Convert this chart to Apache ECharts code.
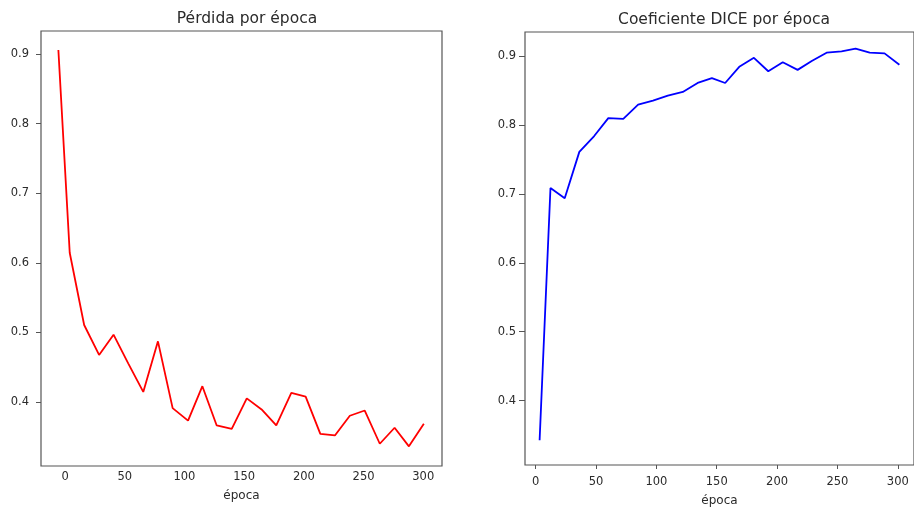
<!DOCTYPE html>
<html>
<head>
<meta charset="utf-8">
<script src="https://cdn.jsdelivr.net/npm/echarts@6/dist/echarts.min.js"></script>
<style>
html,body{margin:0;padding:0;background:#fff;}
#chart{width:914px;height:512px;}
</style>
</head>
<body>
<div id="chart"></div>
<script>
// ---- data ----
const lossEpochs = [-5.6, 3.9, 16, 28.5, 40.6, 53, 65.5, 77.8, 90.1, 103, 115, 127, 139.6, 152.2, 164.6, 176.9, 189.5, 201.5, 213.8, 226, 238.5, 251, 263.6, 276, 288, 300.5];
const lossValues = [0.906, 0.6145, 0.5105, 0.4674, 0.4966, 0.455, 0.4143, 0.487, 0.391, 0.373, 0.4225, 0.366, 0.361, 0.405, 0.389, 0.366, 0.413, 0.4076, 0.354, 0.3516, 0.38, 0.3875, 0.3397, 0.3627, 0.336, 0.3685];

const diceEpochs = [3.3, 12.3, 24.1, 36.2, 48.5, 60.2, 72.6, 84.9, 97.2, 109.5, 121.9, 134.2, 146, 157, 169, 180.8, 192.7, 204.7, 217, 228.7, 241, 253.4, 265, 276.7, 289, 301.3];
const diceValues = [0.3424, 0.7086, 0.6938, 0.761, 0.784, 0.810, 0.809, 0.8295, 0.8355, 0.8427, 0.848, 0.861, 0.868, 0.861, 0.885, 0.8975, 0.878, 0.891, 0.880, 0.8928, 0.905, 0.907, 0.911, 0.905, 0.904, 0.8875];

const xTicks = [0, 50, 100, 150, 200, 250, 300];
const yTicks = [0.4, 0.5, 0.6, 0.7, 0.8, 0.9];

const titles = ['Pérdida por época', 'Coeficiente DICE por época'];
const xName = 'época';

// ---- chart ----
const font = 'DejaVu Sans';
const txt = '#2b2b2b';
const axisCol = '#555';

function xAxisCfg(idx, min, max, tickLen, labelMargin, nameGap) {
  return {
    type: 'value', gridIndex: idx, min: min, max: max,
    name: xName, nameLocation: 'middle', nameGap: nameGap,
    nameTextStyle: {color: txt, fontFamily: font, fontSize: 12},
    axisLine: {show: false, onZero: false},
    axisTick: {show: tickLen > 0, length: tickLen, customValues: xTicks, lineStyle: {color: axisCol}},
    axisLabel: {customValues: xTicks, color: txt, fontFamily: font, fontSize: 11.5, margin: labelMargin},
    splitLine: {show: false}
  };
}
function yAxisCfg(idx, min, max, tickLen, labelMargin) {
  return {
    type: 'value', gridIndex: idx, min: min, max: max,
    axisLine: {show: false, onZero: false},
    axisTick: {show: true, length: tickLen, customValues: yTicks, lineStyle: {color: axisCol}},
    axisLabel: {customValues: yTicks, color: txt, fontFamily: font, fontSize: 11.5, margin: labelMargin,
      formatter: v => v.toFixed(1)},
    splitLine: {show: false}
  };
}

const chart = echarts.init(document.getElementById('chart'), null, {renderer: 'canvas'});
chart.setOption({
  backgroundColor: '#ffffff',
  animation: false,
  title: [
    {text: titles[0], left: 242, top: 6, textAlign: 'center',
     textStyle: {color: txt, fontFamily: font, fontSize: 15.5, fontWeight: 'normal'}},
    {text: titles[1], left: 719, top: 7, textAlign: 'center',
     textStyle: {color: txt, fontFamily: font, fontSize: 15.5, fontWeight: 'normal'}}
  ],
  grid: [
    {left: 41, top: 31, width: 401, height: 435, show: true, borderColor: axisCol, borderWidth: 1.2, backgroundColor: 'transparent'},
    {left: 525, top: 32, width: 393, height: 436, show: true, borderColor: axisCol, borderWidth: 1.2, backgroundColor: 'transparent'}
  ],
  xAxis: [
    xAxisCfg(0, -20.15, 315.7, 0, 5, 24),
    xAxisCfg(1, -8.8, 313.4, 4, 11, 30)
  ],
  yAxis: [
    yAxisCfg(0, 0.3077, 0.9334, 5, 12),
    yAxisCfg(1, 0.3064, 0.935, 6, 9)
  ],
  series: [
    {type: 'line', xAxisIndex: 0, yAxisIndex: 0, showSymbol: false,
     data: lossEpochs.map((e, i) => [e, lossValues[i]]),
     lineStyle: {color: '#ff0000', width: 1.8}, itemStyle: {color: '#ff0000'}},
    {type: 'line', xAxisIndex: 1, yAxisIndex: 1, showSymbol: false,
     data: diceEpochs.map((e, i) => [e, diceValues[i]]),
     lineStyle: {color: '#0000ff', width: 1.8}, itemStyle: {color: '#0000ff'}}
  ]
});
</script>
</body>
</html>
